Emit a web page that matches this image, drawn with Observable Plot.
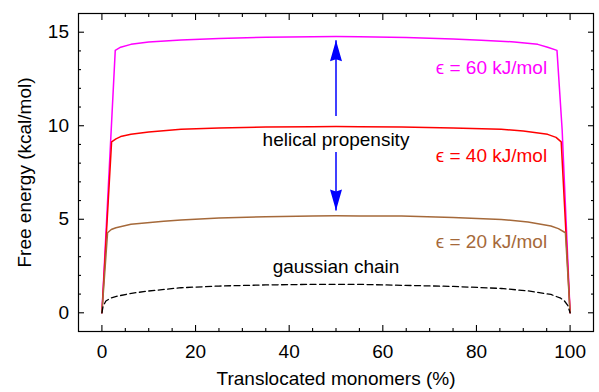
<!DOCTYPE html>
<html><head><meta charset="utf-8">
<script src="https://cdn.jsdelivr.net/npm/d3@7"></script>
<script src="https://cdn.jsdelivr.net/npm/@observablehq/plot@0.6"></script>
<style>body{margin:0;background:#fff}</style>
</head><body><div id="chart"></div>
<script>
// ---- data ----
const e60X = [0, 2.85, 4, 6.2, 10, 16.9, 25, 35, 45, 50, 55, 65, 75, 81, 88.1, 93.1, 95.2, 97.2, 98.3, 100];
const e60Y = [0, 14.03, 14.2, 14.35, 14.48, 14.58, 14.66, 14.73, 14.76, 14.77, 14.76, 14.72, 14.64, 14.57, 14.48, 14.35, 14.2, 14.03, 9.8, 0];

const e40X = [0, 2.07, 3, 4, 6.2, 10, 16.9, 25, 35, 45, 50, 55, 64, 75, 85.3, 90, 95.2, 97, 98.1, 100];
const e40Y = [0, 9.14, 9.3, 9.42, 9.54, 9.67, 9.81, 9.88, 9.93, 9.95, 9.96, 9.95, 9.93, 9.88, 9.81, 9.72, 9.54, 9.38, 9.14, 0];

const e20X = [0, 1.21, 2, 3, 6.2, 13.2, 16.9, 25, 35, 45, 50, 55, 64, 75, 85.3, 91, 95.9, 97.5, 99.0, 100];
const e20Y = [0, 4.28, 4.45, 4.55, 4.73, 4.9, 4.96, 5.07, 5.14, 5.18, 5.19, 5.18, 5.17, 5.09, 4.99, 4.85, 4.64, 4.5, 4.28, 0];

const gaussX = [0, 0.25, 0.85, 2, 3.35, 6, 9.8, 16.9, 25, 35, 45, 50, 55, 64, 75, 85.3, 91, 95.9, 98, 98.8, 99.5, 100];
const gaussY = [0, 0.35, 0.63, 0.8, 0.89, 1.03, 1.16, 1.34, 1.43, 1.49, 1.52, 1.52, 1.52, 1.47, 1.41, 1.3, 1.17, 0.98, 0.78, 0.63, 0.4, 0];

const seriesNames = ["ϵ = 60 kJ/mol", "ϵ = 40 kJ/mol", "ϵ = 20 kJ/mol", "gaussian chain"];
const seriesColors = ["#ff00ff", "#ff0000", "#a5693a", "#000000"];

const annLabels = ["ϵ = 60 kJ/mol", "ϵ = 40 kJ/mol", "ϵ = 20 kJ/mol"];
const annX = [95.1, 95.1, 95.1];
const annY = [13.07, 8.40, 3.80];

const noteLabels = ["helical propensity", "gaussian chain"];
const noteX = [50, 50];
const noteY = [9.24, 2.47];

const arrowX = [50, 50];
const arrowFrom = [10.52, 8.59];
const arrowTo = [14.57, 5.47];

const xMajor = [0, 20, 40, 60, 80, 100];
const xMinor = [5, 10, 15, 25, 30, 35, 45, 50, 55, 65, 70, 75, 85, 90, 95];
const yMajor = [0, 5, 10, 15];
const yMinor = [1, 2, 3, 4, 6, 7, 8, 9, 11, 12, 13, 14];

const xTitle = "Translocated monomers (%)";
const yTitle = "Free energy (kcal/mol)";

// ---- build tables ----
const seriesX = [e60X, e40X, e20X, gaussX];
const seriesY = [e60Y, e40Y, e20Y, gaussY];
const tables = seriesX.map((xs, i) => xs.map((x, j) => ({x, y: seriesY[i][j]})));
const ann = annLabels.map((t, i) => ({t, x: annX[i], y: annY[i], c: seriesColors[i]}));
const notes = noteLabels.map((t, i) => ({t, x: noteX[i], y: noteY[i]}));
const arrows = arrowX.map((x, i) => ({x, y1: arrowFrom[i], y2: arrowTo[i], up: arrowTo[i] > arrowFrom[i]}));

const headUp = {draw(ctx) { ctx.moveTo(0, 0); ctx.lineTo(6, 21); ctx.lineTo(0, 19); ctx.lineTo(-6, 21); ctx.closePath(); }};
const headDown = {draw(ctx) { ctx.moveTo(0, 0); ctx.lineTo(6, -21); ctx.lineTo(0, -19); ctx.lineTo(-6, -21); ctx.closePath(); }};

const tickStyle = {tickFormat: () => "", stroke: "black", strokeWidth: 1.1};

const marks = [
  Plot.axisX(xMajor, {anchor: "bottom", tickSize: -6, ...tickStyle}),
  Plot.axisX(xMinor, {anchor: "bottom", tickSize: -3, ...tickStyle}),
  Plot.axisX(xMajor, {anchor: "top", tickSize: -6, ...tickStyle}),
  Plot.axisX(xMinor, {anchor: "top", tickSize: -3, ...tickStyle}),
  Plot.axisY(yMajor, {anchor: "left", tickSize: -6, ...tickStyle}),
  Plot.axisY(yMinor, {anchor: "left", tickSize: -3, ...tickStyle}),
  Plot.axisY(yMajor, {anchor: "right", tickSize: -6, ...tickStyle}),
  Plot.axisY(yMinor, {anchor: "right", tickSize: -3, ...tickStyle}),
  Plot.axisX(xMajor, {anchor: "bottom", tickSize: 0, tickPadding: 12.5, fill: "black"}),
  Plot.axisY(yMajor, {anchor: "left", tickSize: 0, tickPadding: 9.5, fill: "black"}),
  Plot.frame({stroke: "black", strokeWidth: 1.2}),
];
tables.forEach((rows, i) => {
  marks.push(Plot.line(rows, {x: "x", y: "y", stroke: seriesColors[i], strokeWidth: i === 3 ? 1.3 : 1.5,
    strokeDasharray: i === 3 ? "6,3.5" : null}));
});
marks.push(
  Plot.text(ann, {x: "x", y: "y", text: "t", fill: "c", textAnchor: "end"}),
  Plot.text(notes, {x: "x", y: "y", text: "t", fill: "black", textAnchor: "middle"}),
  Plot.link(arrows, {x1: "x", y1: "y1", x2: "x", y2: "y2", stroke: "blue", strokeWidth: 1.5}),
  Plot.dot(arrows.filter(d => d.up), {x: "x", y: "y2", symbol: headUp, fill: "blue", stroke: null, r: 5}),
  Plot.dot(arrows.filter(d => !d.up), {x: "x", y: "y2", symbol: headDown, fill: "blue", stroke: null, r: 5}),
  Plot.text([xTitle], {frameAnchor: "bottom", text: d => d, textAnchor: "middle", lineAnchor: "top", dy: 40.3, fill: "black"}),
  Plot.text([yTitle], {frameAnchor: "left", text: d => d, rotate: -90, textAnchor: "middle", lineAnchor: "top", dx: -61, fill: "black"})
);

const chart = Plot.plot({
  width: 599, height: 392,
  marginLeft: 78, marginRight: 6, marginTop: 13, marginBottom: 61,
  x: {domain: [-5, 105], label: null},
  y: {domain: [-1, 16], label: null},
  style: {fontFamily: "'Liberation Sans', Arial, sans-serif", fontSize: "19px", background: "white", color: "black"},
  marks
});
document.getElementById("chart").append(chart);
</script>
</body></html>
